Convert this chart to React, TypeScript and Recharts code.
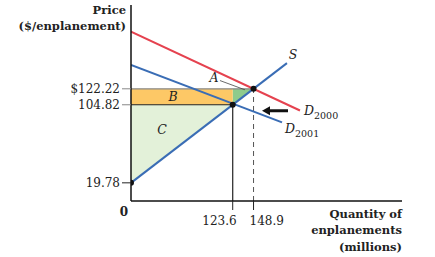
import React from 'react';
import {
    ComposedChart,
    Line,
    Area,
    Scatter,
    XAxis,
    YAxis,
    ReferenceArea,
    ReferenceLine
} from 'recharts';

// price axis ($/enplanement)
const priceTicks = [0, 19.78, 104.82, 122.22];
const priceTickLabels = ['0', '19.78', '104.82', '$122.22'];
// quantity axis (millions)
const qtyTicks = [123.6, 148.9];

// curves
const supply = [{ q: 0, p: 19.78 }, { q: 189.5, p: 150.2 }];
const demand2000 = [{ q: 0, p: 184.4 }, { q: 205.3, p: 98.6 }];
const demand2001 = [{ q: 0, p: 148.3 }, { q: 183.5, p: 85.7 }];
const points = [{ q: 0, p: 19.78 }, { q: 123.6, p: 104.82 }, { q: 148.9, p: 122.22 }];

// shaded regions
const areaC = [{ q: 0, lo: 19.78, hi: 104.82 }, { q: 123.6, lo: 104.82, hi: 104.82 }];
const areaA = [{ q: 123.6, lo: 104.82, hi: 122.22 }, { q: 148.9, lo: 122.22, hi: 122.22 }];
const leaderA = [{ q: 108.1, p: 131.2 }, { q: 138.5, p: 121.1 }];
const shift = [{ q: 175, p: 98.3 }];

const curveLabels = [
    { q: 100.9, p: 134.2, text: 'A', sub: '', anchor: 'middle' },
    { q: 51, p: 113.5, text: 'B', sub: '', anchor: 'middle' },
    { q: 37.7, p: 77.7, text: 'C', sub: '', anchor: 'middle' },
    { q: 196.8, p: 159.2, text: 'S', sub: '', anchor: 'middle' },
    { q: 210.2, p: 98.6, text: 'D', sub: '2000', anchor: 'start' },
    { q: 187.1, p: 78.8, text: 'D', sub: '2001', anchor: 'start' }
];

const SERIF = '"DejaVu Serif", serif';
const RED = '#e5424f';
const BLUE = '#3a6db5';

const PriceTick = (props: any) => {
    const { x, y, payload } = props;
    const label = priceTickLabels[priceTicks.indexOf(payload.value)];
    if (payload.value === 0) {
        return (
            <text x={x - 7} y={y + 15} textAnchor="middle" fontFamily={SERIF} fontSize={12} fontWeight="bold" fill="#222">
                {label}
            </text>
        );
    }
    return (
        <g>
            <line x1={x - 9} x2={x} y1={y} y2={y} stroke={payload.value > 100 ? '#888' : '#222'} strokeWidth={1} />
            <text x={x - 11} y={y} dy="0.35em" textAnchor="end" fontFamily={SERIF} fontSize={12} fill="#222">
                {label}
            </text>
        </g>
    );
};

const QtyTick = (props: any) => {
    const { x, y, payload, index } = props;
    // the two labels sit either side of their close ticks
    const first = index === 0;
    return (
        <g>
            <line x1={x} x2={x} y1={y} y2={y + 9} stroke="#222" strokeWidth={1} />
            <text x={first ? x + 4 : x - 4} y={y + 24} textAnchor={first ? 'end' : 'start'} fontFamily={SERIF} fontSize={12} fill="#222">
                {payload.value}
            </text>
        </g>
    );
};

const CurveLabel = (props: any) => {
    const { cx, cy, payload } = props;
    return (
        <text x={cx} y={cy} dy="0.35em" textAnchor={payload.anchor} fontFamily={SERIF} fontStyle="italic" fontSize={12.5} fill="#222">
            {payload.text}
            {payload.sub && <tspan fontSize={9.5} dy="4" fontStyle="normal">{payload.sub}</tspan>}
        </text>
    );
};

const Arrow = (props: any) => {
    const { cx, cy } = props;
    return (
        <g>
            <line x1={cx - 6} x2={cx + 13} y1={cy} y2={cy} stroke="#111" strokeWidth={3} />
            <polygon points={`${cx - 13},${cy} ${cx - 5},${cy - 4.5} ${cx - 5},${cy + 4.5}`} fill="#111" />
        </g>
    );
};

const Dot = (props: any) => <circle cx={props.cx} cy={props.cy} r={3} fill="#111" />;

const YTitle = () => (
    <text fontFamily={SERIF} fontSize={11.5} fontWeight="bold" fill="#222" textAnchor="end">
        <tspan x={126} y={14}>Price</tspan>
        <tspan x={126} y={30}>($/enplanement)</tspan>
    </text>
);

const XTitle = () => (
    <text fontFamily={SERIF} fontSize={11.5} fontWeight="bold" fill="#222" textAnchor="end">
        <tspan x={402} y={218}>Quantity of</tspan>
        <tspan x={402} y={234}>enplanements</tspan>
        <tspan x={402} y={251}>(millions)</tspan>
    </text>
);

export default function App() {
    return (
        <div style={{ position: 'absolute', left: 0, top: 0, width: 435, height: 257, background: '#fff' }}>
            <ComposedChart width={435} height={257} margin={{ top: 5, right: 33, left: 0, bottom: 0 }}>
                <XAxis
                    type="number"
                    dataKey="q"
                    domain={[0, 329.3]}
                    ticks={qtyTicks}
                    interval={0}
                    height={56}
                    tickLine={false}
                    tickSize={0}
                    tickMargin={0}
                    tick={<QtyTick />}
                    stroke="#111"
                    strokeWidth={1.5}
                    allowDataOverflow
                    label={{ content: () => <XTitle /> }}
                />
                <YAxis
                    type="number"
                    dataKey="p"
                    domain={[0, 213.5]}
                    ticks={priceTicks}
                    interval={0}
                    width={131}
                    tickLine={false}
                    tickSize={0}
                    tickMargin={0}
                    tick={<PriceTick />}
                    stroke="#111"
                    strokeWidth={1.5}
                    allowDataOverflow
                    label={{ content: () => <YTitle /> }}
                />
                <Area data={areaC} dataKey={(d: any) => [d.lo, d.hi]} type="linear" fill="#e3f1d9" fillOpacity={1} stroke="none" isAnimationActive={false} />
                <Area data={areaA} dataKey={(d: any) => [d.lo, d.hi]} type="linear" fill="#8fcb8c" fillOpacity={1} stroke="none" isAnimationActive={false} />
                <ReferenceArea x1={0} x2={123.6} y1={104.82} y2={122.22} fill="#fdc866" fillOpacity={1} stroke="none" />
                <ReferenceLine segment={[{ x: 0, y: 122.22 }, { x: 148.9, y: 122.22 }]} stroke="#888" strokeWidth={1.2} />
                <ReferenceLine segment={[{ x: 0, y: 104.82 }, { x: 123.6, y: 104.82 }]} stroke="#222" strokeWidth={1.2} />
                <ReferenceLine segment={[{ x: 123.6, y: 0 }, { x: 123.6, y: 104.82 }]} stroke="#222" strokeWidth={1.2} />
                <ReferenceLine segment={[{ x: 148.9, y: 0 }, { x: 148.9, y: 122.22 }]} stroke="#555" strokeWidth={1} strokeDasharray="5 4" />
                <Line data={leaderA} dataKey="p" stroke="#444" strokeWidth={0.8} dot={false} isAnimationActive={false} />
                <Line data={demand2000} dataKey="p" stroke={RED} strokeWidth={2} dot={false} isAnimationActive={false} />
                <Line data={demand2001} dataKey="p" stroke={BLUE} strokeWidth={2} dot={false} isAnimationActive={false} />
                <Line data={supply} dataKey="p" stroke={BLUE} strokeWidth={2} dot={false} isAnimationActive={false} />
                <Scatter data={points} dataKey="p" shape={<Dot />} isAnimationActive={false} />
                <Scatter data={shift} dataKey="p" shape={<Arrow />} isAnimationActive={false} />
                <Scatter data={curveLabels} dataKey="p" shape={<CurveLabel />} isAnimationActive={false} />
            </ComposedChart>
        </div>
    );
}
